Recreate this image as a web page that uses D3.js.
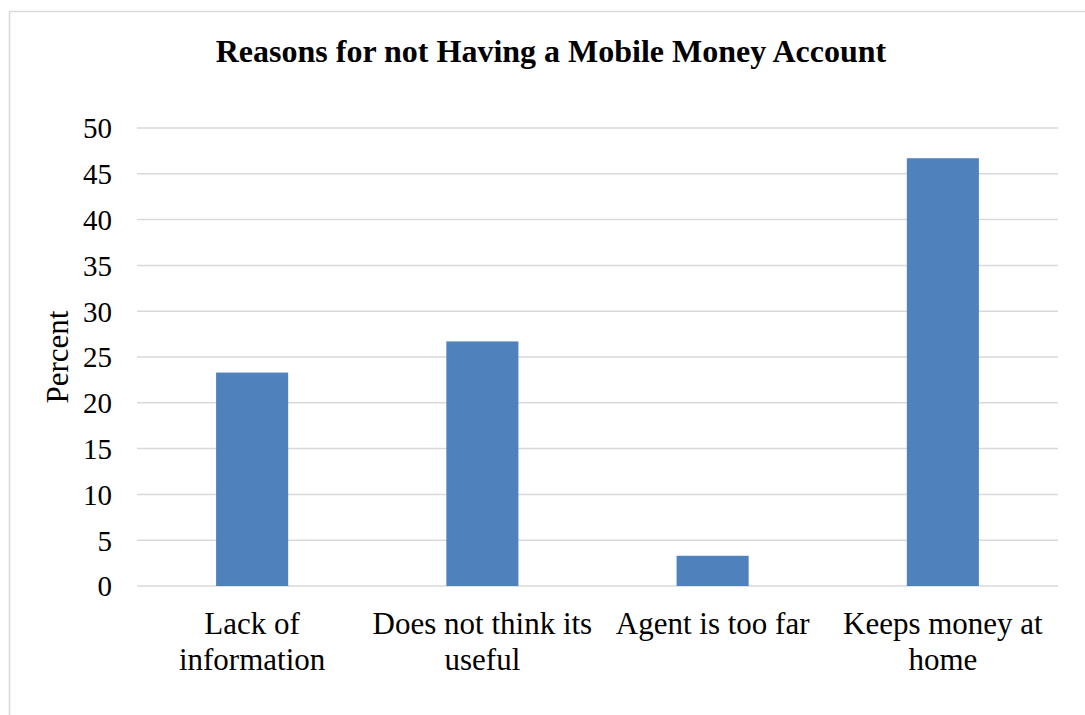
<!DOCTYPE html>
<html>
<head>
<meta charset="utf-8">
<script src="https://cdn.jsdelivr.net/npm/d3@7"></script>
<style>
  html, body { margin: 0; padding: 0; background: #fff; }
  svg { display: block; }
  text { font-family: "Liberation Serif", "Times New Roman", serif; fill: #000; }
</style>
</head>
<body>
<svg id="chart" width="1085" height="715"></svg>
<script>
const title = "Reasons for not Having a Mobile Money Account";
const categories = ["Lack of information", "Does not think its useful", "Agent is too far", "Keeps money at home"];
const values = [23.3, 26.7, 3.3, 46.7];
const yTicks = [0, 5, 10, 15, 20, 25, 30, 35, 40, 45, 50];
const yLabel = "Percent";

const margin = { left: 137, right: 1058, top: 128, bottom: 586 };
const svg = d3.select("#chart");

// outer border
svg.append("rect")
  .attr("x", 9.5).attr("y", 11.5)
  .attr("width", 1100).attr("height", 800)
  .attr("fill", "none").attr("stroke", "#d9d9d9").attr("stroke-width", 1.5);

const x = d3.scaleBand().domain(categories).range([margin.left, margin.right]).paddingInner(0.687).paddingOuter(0.3435);
const y = d3.scaleLinear().domain([0, 50]).range([margin.bottom, margin.top]);

// gridlines
svg.append("g").selectAll("line").data(yTicks).join("line")
  .attr("x1", margin.left).attr("x2", margin.right)
  .attr("y1", d => y(d)).attr("y2", d => y(d))
  .attr("stroke", "#d9d9d9").attr("stroke-width", 1.5);

// bars
svg.append("g").selectAll("rect").data(values).join("rect")
  .attr("x", (d, i) => x(categories[i]))
  .attr("width", x.bandwidth())
  .attr("y", d => y(d))
  .attr("height", d => y(0) - y(d))
  .attr("fill", "#4f81bd");

// y axis labels
const yAxis = d3.axisLeft(y).tickValues(yTicks).tickSize(0).tickPadding(0);
const gy = svg.append("g").attr("transform", `translate(${margin.left - 25},0)`).call(yAxis);
gy.select(".domain").remove();
gy.selectAll("text")
  .attr("font-size", "29px")
  .attr("font-family", "Liberation Serif, Times New Roman, serif")
  .attr("fill", "#000")
  .attr("dy", "0.34em");

// x axis labels with wrapping
const step = x.step();
const gx = svg.append("g");
categories.forEach(cat => {
  const cx = x(cat) + x.bandwidth() / 2;
  const t = gx.append("text")
    .attr("text-anchor", "middle")
    .attr("font-size", "31px");
  const words = cat.split(" ");
  let line = [], lines = [];
  const probe = t.append("tspan");
  for (const w of words) {
    line.push(w);
    probe.text(line.join(" "));
    if (probe.node().getComputedTextLength() > step - 2 && line.length > 1) {
      line.pop();
      lines.push(line.join(" "));
      line = [w];
    }
  }
  lines.push(line.join(" "));
  probe.remove();
  lines.forEach((l, i) => {
    t.append("tspan").attr("x", cx).attr("y", margin.bottom + 48 + i * 36).text(l);
  });
});

// y axis title
svg.append("text")
  .attr("transform", `translate(68,${(margin.top + margin.bottom) / 2}) rotate(-90)`)
  .attr("text-anchor", "middle")
  .attr("font-size", "31px")
  .text(yLabel);

// chart title
svg.append("text")
  .attr("x", 551).attr("y", 62)
  .attr("text-anchor", "middle")
  .attr("font-size", "32px")
  .attr("font-weight", "bold")
  .text(title);
</script>
</body>
</html>
